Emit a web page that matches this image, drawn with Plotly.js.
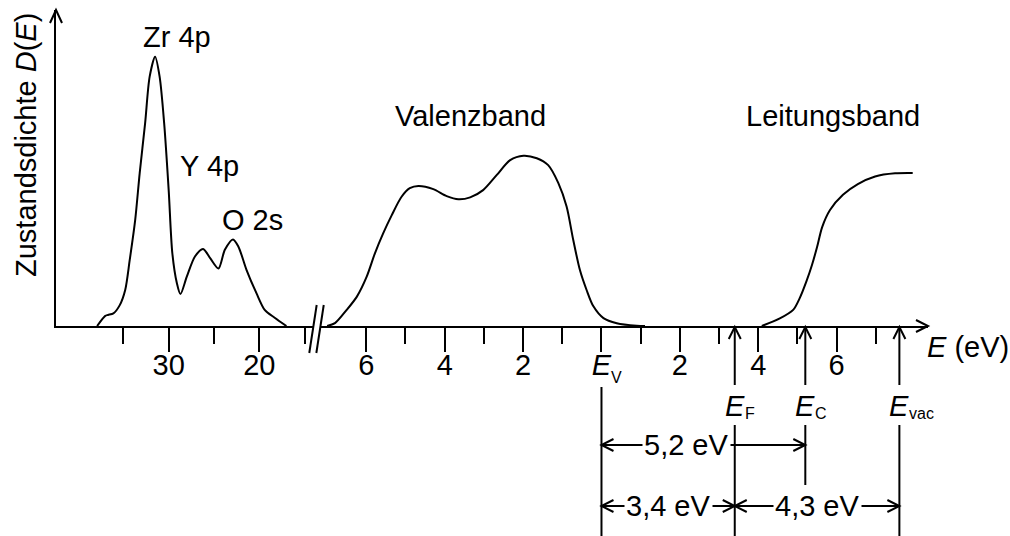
<!DOCTYPE html>
<html>
<head>
<meta charset="utf-8">
<script src="https://cdn.plot.ly/plotly-3.0.1.min.js"></script>
<style>html,body{margin:0;padding:0;background:#fff;}</style>
</head>
<body>
<div id="chart" style="width:1010px;height:536px;"></div>
<script>
// ---------------- data ----------------
// core levels: binding energy (eV) and density of states (a.u.)
const coreE   = [37.9, 37.0, 36.7, 36.1, 35.4, 34.8, 34.3, 33.7, 33.2, 32.6, 32.1, 31.5, 31.0, 30.5, 30.0, 29.6, 29.1, 28.7, 28.0, 27.1, 26.2, 25.4, 24.5, 23.8, 22.9, 22.3, 21.4, 20.3, 19.4, 18.3, 17.0];
const coreDOS = [0, 0.032, 0.035, 0.040, 0.066, 0.114, 0.209, 0.335, 0.484, 0.642, 0.789, 0.852, 0.789, 0.642, 0.430, 0.231, 0.136, 0.101, 0.156, 0.220, 0.244, 0.214, 0.182, 0.241, 0.274, 0.251, 0.177, 0.103, 0.051, 0.026, 0];
// valence band: energy relative to E_V (eV)
const valE   = [-7.00, -6.80, -6.50, -6.24, -5.99, -5.78, -5.57, -5.35, -5.10, -4.89, -4.67, -4.29, -3.95, -3.65, -3.35, -3.02, -2.67, -2.33, -1.99, -1.65, -1.36, -1.10, -0.89, -0.72, -0.55, -0.38, -0.21, 0.05, 0.39, 0.90, 1.11];
const valDOS = [0, 0.009, 0.051, 0.093, 0.156, 0.230, 0.293, 0.351, 0.409, 0.436, 0.443, 0.433, 0.411, 0.401, 0.407, 0.430, 0.478, 0.525, 0.539, 0.531, 0.509, 0.452, 0.378, 0.272, 0.177, 0.114, 0.063, 0.025, 0.009, 0.001, 0];
// conduction band
const condE   = [4.09, 4.55, 4.89, 5.06, 5.23, 5.37, 5.50, 5.63, 5.83, 6.16, 6.54, 6.98, 7.49, 7.94];
const condDOS = [0, 0.024, 0.051, 0.089, 0.142, 0.193, 0.250, 0.313, 0.367, 0.415, 0.449, 0.473, 0.483, 0.484];

// axis ticks
const coreTickVals  = [30, 20];
const coreTickText  = ['30', '20'];
const coreMinorVals = [35, 25, 15];
const mainTickVals  = [-6, -4, -2, 0, 2, 4, 6];
const mainTickText  = ['6', '4', '2', '<i>E</i>', '2', '4', '6'];
const mainMinorVals = [-5, -3, -1, 1, 3, 5, 7];

// labels
const peakLabels = ['Zr 4p', 'Y 4p', 'O 2s'];
const bandLabels = ['Valenzband', 'Leitungsband'];
// energy levels (eV above E_V)
const levelSubs = ['V', 'F', 'C', 'vac'];
const levelE    = [0, 3.4, 5.2, 7.6];
// gaps between levels (indices into levelE)
const gapText = ['5,2 eV', '3,4 eV', '4,3 eV'];
const gapFrom = [0, 0, 1];
const gapTo   = [2, 1, 3];

// ---------------- layout helpers ----------------
const FONT = 'Liberation Sans, Arial, Helvetica, sans-serif';
const FS = 29;
const SUBFS = 16;
const M = {l: 56, r: 82, t: 10, b: 210};
const PH = 536 - M.t - M.b;           // plot height in px
const py = px => (536 - M.b - px) / PH; // pixel row -> paper y
const BLACK = '#000';
const LW = 2;

function head(xref, x, y, dir) {
  const L = 12, W = 6;
  const paths = {
    left:  `M ${L} ${W} L 0 0 L ${L} ${-W}`,
    right: `M ${-L} ${W} L 0 0 L ${-L} ${-W}`,
    up:    `M ${-W} ${-L} L 0 0 L ${W} ${-L}`
  };
  return {type: 'path', xref: xref, yref: 'paper', xsizemode: 'pixel', ysizemode: 'pixel',
          xanchor: x, yanchor: y, path: paths[dir], line: {color: BLACK, width: LW}};
}
function vline(xref, x, y0px, y1px) {
  return {type: 'line', xref: xref, yref: 'paper', x0: x, x1: x, y0: py(y0px), y1: py(y1px),
          line: {color: BLACK, width: LW}};
}

const lineStyle = {color: BLACK, width: 2, shape: 'spline', smoothing: 0.8};
const traces = [
  {x: coreE, y: coreDOS, xaxis: 'x', yaxis: 'y', mode: 'lines', line: lineStyle, hoverinfo: 'skip'},
  {x: valE, y: valDOS, xaxis: 'x2', yaxis: 'y', mode: 'lines', line: lineStyle, hoverinfo: 'skip'},
  {x: condE, y: condDOS, xaxis: 'x2', yaxis: 'y', mode: 'lines', line: lineStyle, hoverinfo: 'skip'}
];

const shapes = [];
// y-axis arrow and E-axis arrow
shapes.push({type: 'path', xref: 'paper', yref: 'paper', xsizemode: 'pixel', ysizemode: 'pixel',
             xanchor: 0, yanchor: 1, path: 'M -6 -13 L 0 0 L 6 -13', line: {color: BLACK, width: LW}});
shapes.push({type: 'path', xref: 'paper', yref: 'paper', xsizemode: 'pixel', ysizemode: 'pixel',
             xanchor: 1, yanchor: 0, path: 'M -12 6 L 0 0 L -12 -6', line: {color: BLACK, width: LW}});
// axis break marks
[0.2947, 0.3028].forEach(xa => shapes.push({type: 'line', xref: 'paper', yref: 'paper',
  xsizemode: 'pixel', ysizemode: 'pixel', xanchor: xa, yanchor: py(329),
  x0: 3.7, x1: -3.7, y0: 24, y1: -24, line: {color: BLACK, width: LW}}));

// level markers
shapes.push(vline('x2', levelE[0], 387, 536));   // E_V: plain line below its tick label
const lowerEnd = [536, 536, 485, 536];
for (let i = 1; i < levelE.length; i++) {
  shapes.push(vline('x2', levelE[i], 327, 385));
  shapes.push(head('x2', levelE[i], py(327), 'up'));
  shapes.push(vline('x2', levelE[i], 425, lowerEnd[i]));
}
// gap dimension lines
const gapRowPx = [445, 506, 506];
for (let g = 0; g < gapText.length; g++) {
  const y = py(gapRowPx[g]);
  const a = levelE[gapFrom[g]], b = levelE[gapTo[g]];
  shapes.push({type: 'line', xref: 'x2', yref: 'paper', x0: a, x1: b, y0: y, y1: y,
               line: {color: BLACK, width: LW}});
  shapes.push(head('x2', a, y, 'left'));
  shapes.push(head('x2', b, y, 'right'));
}

const annFont = {family: FONT, size: FS, color: BLACK};
const subFont = {family: FONT, size: SUBFS, color: BLACK};
const annotations = [];
// peak labels (core axis)
const peakPos = [[29.1, 0.915], [25.5, 0.506], [20.7, 0.335]];
peakLabels.forEach((t, i) => annotations.push({text: t, xref: 'x', yref: 'y',
  x: peakPos[i][0], y: peakPos[i][1], showarrow: false, font: annFont, xanchor: 'center', yanchor: 'middle'}));
// band labels (main axis)
const bandPos = [[-3.35, 0.666], [5.9, 0.665]];
bandLabels.forEach((t, i) => annotations.push({text: t, xref: 'x2', yref: 'y',
  x: bandPos[i][0], y: bandPos[i][1], showarrow: false, font: annFont, xanchor: 'center', yanchor: 'middle'}));
// subscript of the E_V tick label
annotations.push({text: levelSubs[0], xref: 'x2', yref: 'paper', x: levelE[0], y: py(377), xshift: 8,
  showarrow: false, font: subFont, xanchor: 'left', yanchor: 'middle'});
// level labels E_F, E_C, E_vac
for (let i = 1; i < levelE.length; i++) {
  annotations.push({text: '<i>E</i>', xref: 'x2', yref: 'paper', x: levelE[i], y: py(406),
    showarrow: false, font: annFont, xanchor: 'center', yanchor: 'middle'});
  annotations.push({text: levelSubs[i], xref: 'x2', yref: 'paper', x: levelE[i], y: py(413), xshift: 8,
    showarrow: false, font: subFont, xanchor: 'left', yanchor: 'middle'});
}
// gap labels
const gapTextE = [2.18, 1.72, 5.51];
gapText.forEach((t, g) => annotations.push({text: t, xref: 'x2', yref: 'paper', x: gapTextE[g],
  y: py(gapRowPx[g]), showarrow: false, font: annFont, bgcolor: '#fff', borderpad: 1,
  xanchor: 'center', yanchor: 'middle'}));
// axis titles
annotations.push({text: 'Zustandsdichte <i>D</i>(<i>E</i>)', xref: 'paper', yref: 'paper',
  x: (26 - M.l) / (1010 - M.l - M.r), y: py(145), textangle: -90, showarrow: false, font: annFont,
  xanchor: 'center', yanchor: 'middle'});
annotations.push({text: '<i>E</i> (eV)', xref: 'paper', yref: 'paper',
  x: (925 - M.l) / (1010 - M.l - M.r), y: py(347), showarrow: false, font: annFont,
  xanchor: 'left', yanchor: 'middle'});

const axisCommon = {
  showline: true, linewidth: LW, linecolor: BLACK, showgrid: false, zeroline: false,
  ticks: 'outside', ticklen: 24, tickwidth: LW, tickcolor: BLACK, ticklabelstandoff: -12,
  tickfont: {family: FONT, size: FS, color: BLACK}, tickmode: 'array', anchor: 'y', fixedrange: true
};

const layout = {
  width: 1010, height: 536, margin: M,
  paper_bgcolor: '#fff', plot_bgcolor: '#fff', showlegend: false,
  font: {family: FONT, color: BLACK},
  xaxis: Object.assign({}, axisCommon, {domain: [0, 0.2947], range: [42.44, 14.07],
    tickvals: coreTickVals, ticktext: coreTickText,
    minor: {tickmode: 'array', tickvals: coreMinorVals, ticks: 'outside', ticklen: 16, tickwidth: LW, tickcolor: BLACK}}),
  xaxis2: Object.assign({}, axisCommon, {domain: [0.3028, 1], range: [-7.18, 8.33],
    tickvals: mainTickVals, ticktext: mainTickText,
    minor: {tickmode: 'array', tickvals: mainMinorVals, ticks: 'outside', ticklen: 16, tickwidth: LW, tickcolor: BLACK}}),
  yaxis: {domain: [0, 1], range: [0, 1], anchor: 'x', showline: true, linewidth: LW, linecolor: BLACK,
    ticks: '', showticklabels: false, showgrid: false, zeroline: false, fixedrange: true},
  shapes: shapes,
  annotations: annotations
};

Plotly.newPlot('chart', traces, layout, {staticPlot: true, displayModeBar: false});
</script>
</body>
</html>
